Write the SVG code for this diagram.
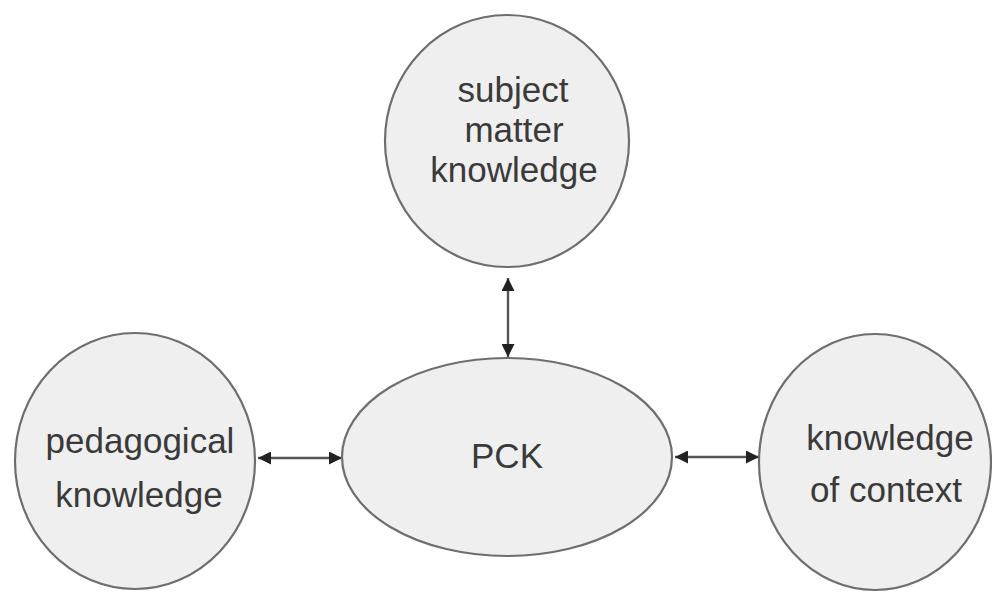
<svg xmlns="http://www.w3.org/2000/svg" width="992" height="593" viewBox="0 0 992 593">
<defs>
<style>
.node{fill:#efefef;stroke:#6e6e6e;stroke-width:2.2}
.lbl{font-family:"Liberation Sans",Arial,Helvetica,sans-serif;font-size:35px;fill:#3a3a3a;text-anchor:middle}
.conn{stroke:#555555;stroke-width:2.4;fill:none}
</style>
<marker id="ah" viewBox="0 0 10 10" refX="10" refY="5" markerWidth="15" markerHeight="13" markerUnits="userSpaceOnUse" orient="auto-start-reverse">
<path d="M0,0 L10,5 L0,10 Z" fill="#222222"/>
</marker>
</defs>
<rect width="992" height="593" fill="#ffffff"/>
<g id="connectors">
<line class="conn" x1="508" y1="278" x2="508" y2="357" marker-start="url(#ah)" marker-end="url(#ah)"/>
<line class="conn" x1="258" y1="458" x2="342" y2="458" marker-start="url(#ah)" marker-end="url(#ah)"/>
<line class="conn" x1="675" y1="457" x2="759" y2="457" marker-start="url(#ah)" marker-end="url(#ah)"/>
</g>
<g id="subject-matter-knowledge">
<ellipse class="node" cx="507" cy="141" rx="122" ry="126"/>
<text class="lbl" x="513" y="102">subject</text>
<text class="lbl" x="514" y="142">matter</text>
<text class="lbl" x="514" y="182">knowledge</text>
</g>
<g id="pedagogical-knowledge">
<ellipse class="node" cx="135" cy="461" rx="120" ry="128"/>
<text class="lbl" x="140" y="453">pedagogical</text>
<text class="lbl" x="139" y="507">knowledge</text>
</g>
<g id="pck">
<ellipse class="node" cx="507" cy="457" rx="165" ry="99"/>
<text class="lbl" x="507" y="468">PCK</text>
</g>
<g id="knowledge-of-context">
<ellipse class="node" cx="875" cy="462" rx="116" ry="128"/>
<text class="lbl" x="890" y="450">knowledge</text>
<text class="lbl" x="886" y="502">of context</text>
</g>
</svg>
